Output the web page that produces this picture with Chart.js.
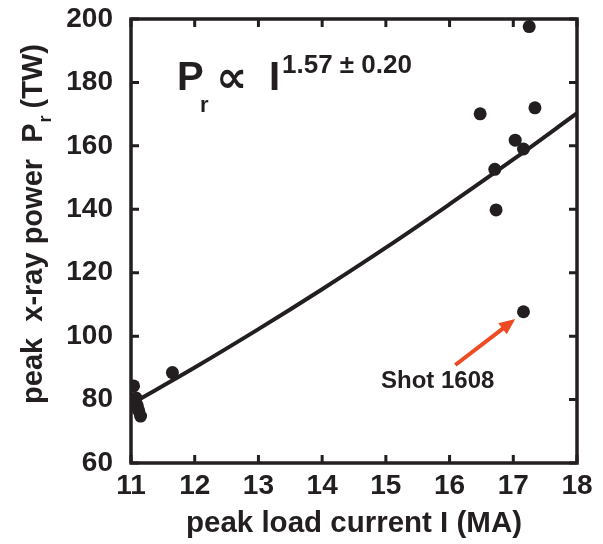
<!DOCTYPE html>
<html>
<head>
<meta charset="utf-8">
<script src="https://cdn.jsdelivr.net/npm/chart.js@4.4.1/dist/chart.umd.min.js"></script>
<style>
  html, body { margin: 0; padding: 0; background: #fff; }
  #wrap { width: 603px; height: 544px; position: relative; }
</style>
</head>
<body>
<div id="wrap"><canvas id="chart"></canvas></div>
<script>
  const INK = "#231f20";
  const FONT = "'Liberation Sans', Arial, Helvetica, 'DejaVu Sans', sans-serif";

  // measured shots: peak load current (MA) vs peak x-ray power (TW)
  const currentMA = [11.04, 11.08, 11.10, 11.12, 11.15, 11.65, 16.48, 16.71, 16.73, 17.03, 17.16, 17.16, 17.25, 17.34];
  const powerTW = [84.3, 80.5, 78.0, 76.5, 74.8, 88.5, 170.1, 152.6, 139.8, 161.8, 159.0, 107.7, 197.6, 172.0];

  // fitted curve P ~ I^1.57
  const fitCurrent = [11, 12, 13, 14, 15, 16, 17, 18];
  const fitPower = [78.6, 90.1, 102.2, 114.8, 127.9, 141.6, 155.7, 170.3];

  const xTicks = [11, 12, 13, 14, 15, 16, 17, 18];
  const yTicks = [60, 80, 100, 120, 140, 160, 180, 200];

  // arrow pointing at shot 1608 (tail, tip) in data units
  const arrowFrom = [16.09, 90.9];
  const arrowTo = [17.03, 105.4];

  const framePlugin = {
    id: "frame",
    afterDraw(chart) {
      const { ctx, chartArea: a, scales } = chart;
      const x = scales.x, y = scales.y;
      ctx.save();
      ctx.strokeStyle = INK;
      ctx.lineWidth = 3.5;
      ctx.lineCap = "square";
      ctx.strokeRect(a.left, a.top, a.right - a.left, a.bottom - a.top);

      const len = 8;
      ctx.lineWidth = 3;
      ctx.lineCap = "butt";
      ctx.beginPath();
      xTicks.forEach((v) => {
        const px = x.getPixelForValue(v);
        ctx.moveTo(px, a.bottom); ctx.lineTo(px, a.bottom - len);
        ctx.moveTo(px, a.top); ctx.lineTo(px, a.top + len);
      });
      yTicks.forEach((v) => {
        const py = y.getPixelForValue(v);
        ctx.moveTo(a.left, py); ctx.lineTo(a.left + len, py);
        ctx.moveTo(a.right, py); ctx.lineTo(a.right - len, py);
      });
      ctx.stroke();

      // y axis title with subscript
      ctx.fillStyle = INK;
      ctx.translate(42, 224);
      ctx.rotate(-Math.PI / 2);
      const t1 = "peak  x-ray power  P";
      const t2 = " (TW)";
      ctx.font = `bold 29px ${FONT}`;
      const w1 = ctx.measureText(t1).width;
      const w2 = ctx.measureText(t2).width;
      ctx.font = `bold 18px ${FONT}`;
      const ws = ctx.measureText("r").width;
      let start = -(w1 + ws + w2) / 2;
      ctx.textBaseline = "alphabetic";
      ctx.font = `bold 29px ${FONT}`;
      ctx.fillText(t1, start, 0);
      ctx.font = `bold 18px ${FONT}`;
      ctx.fillText("r", start + w1 + 1, 9);
      ctx.font = `bold 29px ${FONT}`;
      ctx.fillText(t2, start + w1 + ws, 0);
      ctx.restore();

      // fit annotation
      ctx.save();
      ctx.fillStyle = INK;
      ctx.textBaseline = "alphabetic";
      ctx.font = `bold 40px ${FONT}`;
      ctx.fillText("P", 177, 90);
      ctx.font = `bold 22px ${FONT}`;
      ctx.fillText("r", 200, 112);
      ctx.font = `bold 44px 'DejaVu Sans', ${FONT}`;
      ctx.fillText("\u221D", 216, 92);
      ctx.font = `bold 40px ${FONT}`;
      ctx.fillText("I", 269, 90);
      ctx.font = `bold 26px ${FONT}`;
      ctx.fillText("1.57 \u00B1 0.20", 282, 73);

      // arrow and label
      const fx = x.getPixelForValue(arrowFrom[0]), fy = y.getPixelForValue(arrowFrom[1]);
      const tx = x.getPixelForValue(arrowTo[0]), ty = y.getPixelForValue(arrowTo[1]);
      const ang = Math.atan2(ty - fy, tx - fx);
      const head = 16;
      ctx.strokeStyle = "#ee4a24";
      ctx.fillStyle = "#ee4a24";
      ctx.lineWidth = 4;
      ctx.beginPath();
      ctx.moveTo(fx, fy);
      ctx.lineTo(tx - head * 0.8 * Math.cos(ang), ty - head * 0.8 * Math.sin(ang));
      ctx.stroke();
      ctx.beginPath();
      ctx.moveTo(tx, ty);
      ctx.lineTo(tx - head * Math.cos(ang) + 7 * Math.sin(ang), ty - head * Math.sin(ang) - 7 * Math.cos(ang));
      ctx.lineTo(tx - head * Math.cos(ang) - 7 * Math.sin(ang), ty - head * Math.sin(ang) + 7 * Math.cos(ang));
      ctx.closePath();
      ctx.fill();

      ctx.fillStyle = INK;
      ctx.font = `bold 24px ${FONT}`;
      ctx.fillText("Shot 1608", 381, 388);
      ctx.restore();
    }
  };

  new Chart(document.getElementById("chart"), {
    type: "scatter",
    data: {
      datasets: [
        {
          type: "line",
          data: fitCurrent.map((v, i) => ({ x: v, y: fitPower[i] })),
          borderColor: INK,
          borderWidth: 4,
          pointRadius: 0,
          tension: 0.4,
          fill: false
        },
        {
          data: currentMA.map((v, i) => ({ x: v, y: powerTW[i] })),
          backgroundColor: INK,
          borderColor: INK,
          pointRadius: 6.5,
          pointBorderWidth: 0
        }
      ]
    },
    options: {
      responsive: true,
      maintainAspectRatio: false,
      animation: false,
      layout: { padding: { top: 19, right: 26, left: 0, bottom: 0 } },
      plugins: { legend: { display: false }, tooltip: { enabled: false } },
      scales: {
        x: {
          type: "linear",
          min: 11,
          max: 18,
          afterFit(s) { s.height = 81; s.paddingLeft = 0; s.paddingRight = 0; },
          afterBuildTicks(s) { s.ticks = xTicks.map((v) => ({ value: v })); },
          grid: { display: false, drawTicks: false },
          border: { display: false },
          ticks: { color: INK, padding: 6, font: { family: FONT, size: 28, weight: "bold" } },
          title: {
            display: true,
            text: "peak load current I (MA)",
            color: INK,
            padding: { top: 0, bottom: 2 },
            font: { family: FONT, size: 29.5, weight: "bold" }
          }
        },
        y: {
          type: "linear",
          min: 60,
          max: 200,
          afterFit(s) { s.width = 131; s.paddingTop = 0; s.paddingBottom = 0; },
          afterBuildTicks(s) { s.ticks = yTicks.map((v) => ({ value: v })); },
          grid: { display: false, drawTicks: false },
          border: { display: false },
          ticks: { color: INK, padding: 18, font: { family: FONT, size: 28, weight: "bold" } }
        }
      }
    },
    plugins: [framePlugin]
  });
</script>
</body>
</html>
